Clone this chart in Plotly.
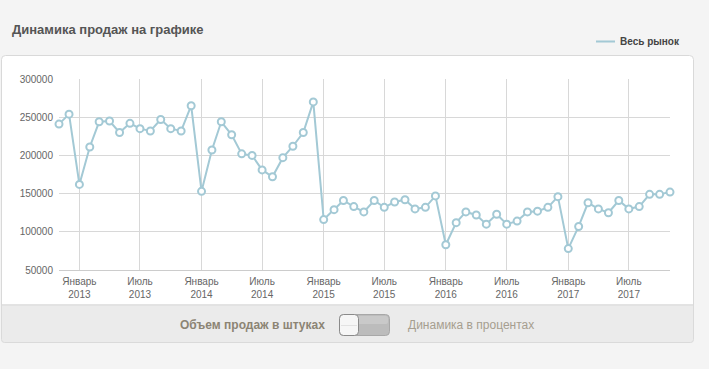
import plotly.graph_objects as go

# ---- data ----
months = [
    "2012-11", "2012-12",
    "2013-01", "2013-02", "2013-03", "2013-04", "2013-05", "2013-06",
    "2013-07", "2013-08", "2013-09", "2013-10", "2013-11", "2013-12",
    "2014-01", "2014-02", "2014-03", "2014-04", "2014-05", "2014-06",
    "2014-07", "2014-08", "2014-09", "2014-10", "2014-11", "2014-12",
    "2015-01", "2015-02", "2015-03", "2015-04", "2015-05", "2015-06",
    "2015-07", "2015-08", "2015-09", "2015-10", "2015-11", "2015-12",
    "2016-01", "2016-02", "2016-03", "2016-04", "2016-05", "2016-06",
    "2016-07", "2016-08", "2016-09", "2016-10", "2016-11", "2016-12",
    "2017-01", "2017-02", "2017-03", "2017-04", "2017-05", "2017-06",
    "2017-07", "2017-08", "2017-09", "2017-10", "2017-11",
]
sales = [
    241000, 254000,
    162000, 211000, 244000, 245000, 230000, 242000,
    235000, 232000, 247000, 235000, 232000, 265000,
    153000, 207000, 244000, 227000, 202000, 200000,
    181000, 172000, 197000, 212000, 230000, 270000,
    116000, 129000, 141000, 133000, 126000, 141000,
    132000, 139000, 142000, 130000, 132000, 147000,
    83000, 112000, 126000, 122000, 110000, 123000,
    110000, 114000, 126000, 127000, 132000, 146000,
    78000, 107000, 138000, 130000, 125000, 141000,
    130000, 133000, 149000, 149000, 152000,
]
tick_dates = ["2013-01", "2013-07", "2014-01", "2014-07", "2015-01", "2015-07",
              "2016-01", "2016-07", "2017-01", "2017-07"]
tick_labels = ["Январь<br>2013", "Июль<br>2013", "Январь<br>2014", "Июль<br>2014",
               "Январь<br>2015", "Июль<br>2015", "Январь<br>2016", "Июль<br>2016",
               "Январь<br>2017", "Июль<br>2017"]
series_name = "Весь рынок"
title_text = "Динамика продаж на графике"
toggle_left = "Объем продаж в штуках"
toggle_right = "Динамика в процентах"

# ---- layout geometry (pixels) ----
W, H = 709, 369
L, R, T, B = 59, 39, 79, 99
PW, PH = W - L - R, H - T - B


def px(x):
    return (x - L) / PW


def py(y):
    return (H - B - y) / PH


def rrect(x0, y0, x1, y1, r, top=True, bottom=True):
    rt = r if top else 0
    rb = r if bottom else 0
    pts = []
    pts.append(f"M {px(x0 + rt)},{py(y0)}")
    pts.append(f"L {px(x1 - rt)},{py(y0)}")
    pts.append(f"Q {px(x1)},{py(y0)} {px(x1)},{py(y0 + rt)}")
    pts.append(f"L {px(x1)},{py(y1 - rb)}")
    pts.append(f"Q {px(x1)},{py(y1)} {px(x1 - rb)},{py(y1)}")
    pts.append(f"L {px(x0 + rb)},{py(y1)}")
    pts.append(f"Q {px(x0)},{py(y1)} {px(x0)},{py(y1 - rb)}")
    pts.append(f"L {px(x0)},{py(y0 + rt)}")
    pts.append(f"Q {px(x0)},{py(y0)} {px(x0 + rt)},{py(y0)}")
    pts.append("Z")
    return " ".join(pts)


line_color = "#a3c9d5"
font_family = "Liberation Sans, Arial, sans-serif"

fig = go.Figure()
fig.add_trace(go.Scatter(
    x=months, y=sales, mode="lines+markers", name=series_name,
    line=dict(color=line_color, width=2),
    marker=dict(size=7, color="white", line=dict(color=line_color, width=2)),
    showlegend=False, hoverinfo="x+y", cliponaxis=False,
))

shapes = [
    # white panel
    dict(type="path", xref="paper", yref="paper", layer="below",
         path=rrect(1.5, 55.5, 693.5, 305, 4, bottom=False),
         fillcolor="white", line=dict(color="#d9d9d9", width=1)),
    # grey bottom bar
    dict(type="path", xref="paper", yref="paper", layer="below",
         path=rrect(1.5, 305, 693.5, 342.5, 3, top=False),
         fillcolor="#ebebeb", line=dict(color="#dadada", width=1)),
    # toggle track
    dict(type="path", xref="paper", yref="paper", layer="above",
         path=rrect(339.5, 314.5, 389.5, 335.5, 4),
         fillcolor="#bcbcbc", line=dict(color="#a8a8a8", width=1)),
    dict(type="path", xref="paper", yref="paper", layer="above",
         path=rrect(345, 316, 388, 324, 2),
         fillcolor="#c9c9c9", line=dict(width=0)),
    # toggle knob
    dict(type="path", xref="paper", yref="paper", layer="above",
         path=rrect(339.5, 314.5, 358.5, 335.5, 4),
         fillcolor="#f6f6f6", line=dict(color="#8a8a8a", width=1)),
    dict(type="line", xref="paper", yref="paper", layer="above",
         x0=px(341), x1=px(357), y0=py(325.5), y1=py(325.5),
         line=dict(color="#e2e2e2", width=1)),
    # legend line
    dict(type="line", xref="paper", yref="paper",
         x0=px(596), x1=px(615), y0=py(41.5), y1=py(41.5),
         line=dict(color=line_color, width=2)),
]

annotations = [
    dict(text=f"<b>{title_text}</b>", xref="paper", yref="paper",
         x=px(10), y=py(29), xanchor="left", yanchor="middle", showarrow=False,
         font=dict(size=13, color="#555555", family=font_family)),
    dict(text=f"<b>{series_name}</b>", xref="paper", yref="paper",
         x=px(618), y=py(41.5), xanchor="left", yanchor="middle", showarrow=False,
         font=dict(size=10, color="#444444", family=font_family)),
    dict(text=f"<b>{toggle_left}</b>", xref="paper", yref="paper",
         x=px(327), y=py(325), xanchor="right", yanchor="middle", showarrow=False,
         font=dict(size=12, color="#8c8474", family=font_family)),
    dict(text=toggle_right, xref="paper", yref="paper",
         x=px(406), y=py(325), xanchor="left", yanchor="middle", showarrow=False,
         font=dict(size=12, color="#a69e8f", family=font_family)),
]

fig.update_layout(
    width=W, height=H, autosize=False,
    margin=dict(l=L, r=R, t=T, b=B, pad=0),
    paper_bgcolor="#f4f4f4", plot_bgcolor="white",
    font=dict(family=font_family, size=10, color="#666666"),
    shapes=shapes, annotations=annotations,
    showlegend=False,
)
fig.update_xaxes(
    type="date", range=["2012-11-01", "2017-11-01"],
    tickmode="array", tickvals=tick_dates, ticktext=tick_labels,
    showgrid=True, gridcolor="#d8d8d8", gridwidth=1,
    showline=True, linecolor="#cccccc", linewidth=1,
    ticks="", zeroline=False, ticklabelstandoff=2,
    tickfont=dict(size=10, color="#666666"),
)
fig.update_yaxes(
    range=[50000, 300000], dtick=50000, tick0=0,
    showgrid=True, gridcolor="#d8d8d8", gridwidth=1,
    showline=False, zeroline=False, ticks="", tickformat="d",
    ticklabelstandoff=5,
    tickfont=dict(size=10, color="#666666"),
)

fig.write_html("out.html", config={"displayModeBar": False},
               post_script="document.body.style.margin='0';")
